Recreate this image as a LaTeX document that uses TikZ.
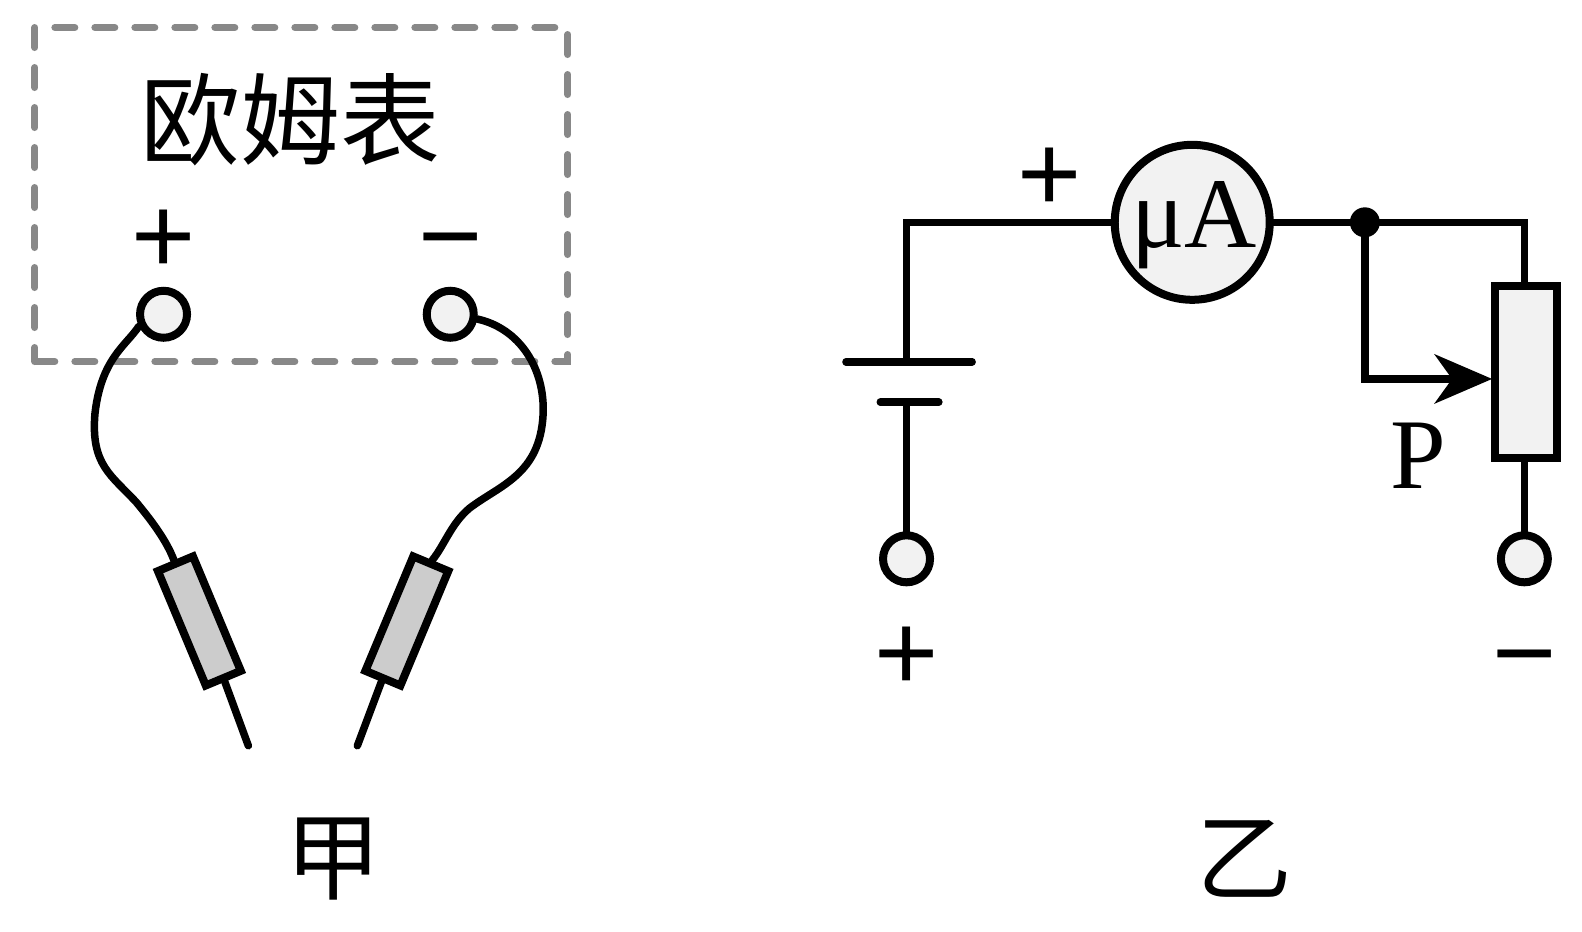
\documentclass[tikz,border=0pt]{standalone}
\usepackage{fontspec}
\setmainfont{Liberation Serif}
\newfontfamily\cjk{Noto Sans CJK SC}
\newfontfamily\signfont{Liberation Sans}
\usetikzlibrary{arrows.meta}
\definecolor{termfill}{HTML}{F2F2F2}
\definecolor{probefill}{HTML}{CCCCCC}
\definecolor{boxgray}{HTML}{888888}
\tikzset{
  wire/.style={line width=7.5pt,line cap=round,line join=miter,black},
  terminal/.style={circle,draw=black,line width=8pt,fill=termfill,minimum size=47pt,inner sep=0pt},
  probe/.style={rectangle,draw=black,line width=8pt,fill=probefill,minimum width=38pt,minimum height=124pt,inner sep=0pt},
  sign/.style={font=\signfont\fontsize{110pt}{110pt}\selectfont,inner sep=0pt,anchor=base},
  cjklabel/.style={font=\cjk\fontsize{100pt}{100pt}\selectfont,inner sep=0pt},
  cjksmall/.style={font=\cjk\fontsize{96pt}{96pt}\selectfont,inner sep=0pt},
  serif/.style={font=\fontsize{100pt}{100pt}\selectfont,inner sep=0pt},
}
\begin{document}
\begin{tikzpicture}[x=1.0095pt,y=-1.0105pt]
\useasboundingbox (0,0) rectangle (1567.1,922.3);
% ---- left panel ----
\node[rectangle,draw=boxgray,line width=7pt,dash pattern=on 20pt off 20pt,line cap=round,
      minimum width=533pt,minimum height=334pt,inner sep=0pt] (box) at (298.5,192.5) {};
\node[cjklabel] (title) at (288,118) {欧姆表};
\node[sign] (lplus) at (162,271) {+};
\node[sign] (lminus) at (446,271) {−};
\node[terminal] (tl) at (162,311) {};
\node[terminal] (tr) at (446,311) {};
\node[probe,rotate=22.7] (pl) at (197.5,614.5) {};
\node[probe,rotate=-22.7] (pr) at (403,614.5) {};
\coordinate (pltip) at (246,738);
\coordinate (prtip) at (354,738);
\draw[wire] (tl.206) .. controls (125,342) and (100,355) .. (94,410)
  .. controls (90,460) and (110,470) .. (135,497)
  .. controls (150,515) and (165,535) .. (pl.north);
\draw[wire] (tr.-10) .. controls (515,325) and (540,365) .. (538,410)
  .. controls (535,470) and (495,480) .. (465,503)
  .. controls (447,518) and (440,540) .. (pr.north);
\draw[wire] (pl.south) -- (pltip);
\draw[wire] (pr.south) -- (prtip);
\node[cjksmall] (jia) at (330,850) {甲};
% ---- right panel ----
\node[circle,draw=black,line width=8pt,fill=termfill,minimum size=155pt,inner sep=0pt] (meter) at (1181,220) {};
\node[serif,anchor=base] (ua) at (1183,245) {μA};
\node[rectangle,draw=black,line width=8pt,fill=termfill,minimum width=62pt,minimum height=172pt,inner sep=0pt] (rheo) at (1511.5,368.5) {};
\node[terminal] (tb1) at (898,553) {};
\node[terminal] (tb2) at (1510,553) {};
\node[circle,fill=black,minimum size=30pt,inner sep=0pt] (junc) at (1352,220) {};
\coordinate (corner) at (898,220);
\coordinate (corner2) at (1510,220);
\coordinate (rtop) at (1510,281);
\coordinate (rbot) at (1510,456);
\coordinate (longL) at (838,358);
\coordinate (longR) at (963,358);
\coordinate (longM) at (898,358);
\coordinate (shortL) at (872,398);
\coordinate (shortR) at (930,398);
\coordinate (shortM) at (898,398);
\coordinate (wiper) at (1478,375);
\draw[wire] (longM) -- (corner) -- (meter.west |- corner);
\draw[wire] (meter.east |- corner) -- (junc) -- (corner2) -- (rtop);
\draw[wire] (longL) -- (longR);
\draw[wire] (shortL) -- (shortR);
\draw[wire] (shortM) -- (tb1.north);
\draw[wire] (rbot) -- (tb2.north);
\draw[wire,line cap=butt,-{Stealth[length=58pt,width=50pt,inset=18pt,line width=0pt]}] (junc.center) |- (wiper);
\node[serif,anchor=base] (plabel) at (1405,483) {P};
\node[sign] (mplus) at (1040,209) {+};
\node[sign] (bplus) at (898,683) {+};
\node[sign] (bminus) at (1510,683) {−};
\node[cjksmall] (yi) at (1233,850) {乙};
\end{tikzpicture}
\end{document}
